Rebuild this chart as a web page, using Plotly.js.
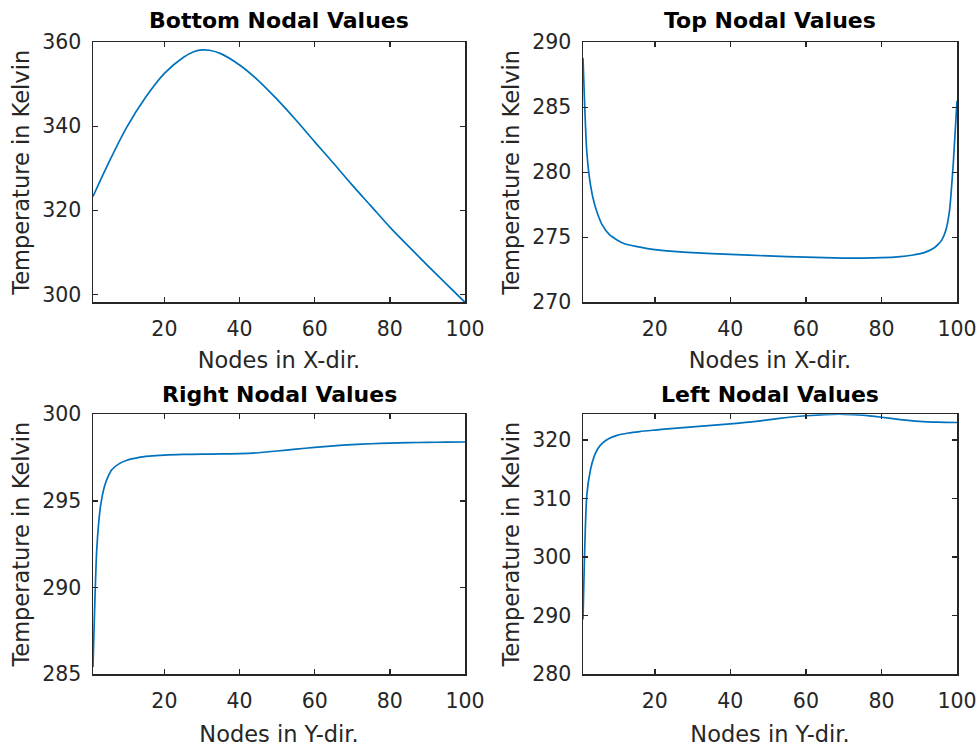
<!DOCTYPE html>
<html>
<head>
<meta charset="utf-8">
<script src="https://cdn.plot.ly/plotly-3.0.1.min.js"></script>
<style>html,body{margin:0;padding:0;background:#fff;}#chart{width:979px;height:750px;}</style>
</head>
<body>
<div id="chart"></div>
<script>
// ---- Data ----
const bottomNodes = [1, 5, 10, 15, 20, 25, 28, 30, 32, 35, 40, 45, 50, 55, 60, 65, 70, 75, 80, 85, 90, 95, 100];
const bottomTemp  = [323.3, 331.0, 339.8, 346.9, 352.6, 356.4, 357.8, 358.2, 358.1, 357.3, 354.6, 350.9, 346.4, 341.5, 336.3, 331.2, 326.0, 321.0, 316.0, 311.4, 306.9, 302.5, 298.1];

const topNodes = [1, 2, 3, 4, 5, 6, 8, 10, 12, 15, 20, 25, 30, 40, 50, 60, 70, 75, 80, 85, 88, 90, 92, 94, 95, 96, 97, 98, 99, 100];
const topTemp  = [288.8, 281.6, 279.0, 277.6, 276.7, 276.0, 275.2, 274.8, 274.5, 274.3, 274.05, 273.92, 273.82, 273.68, 273.57, 273.47, 273.4, 273.4, 273.43, 273.52, 273.62, 273.72, 273.9, 274.2, 274.45, 274.8, 275.5, 277.0, 280.6, 285.5];

const rightNodes = [1, 2, 3, 4, 5, 6, 8, 10, 13, 16, 20, 25, 30, 35, 40, 45, 50, 55, 60, 65, 70, 75, 80, 85, 90, 95, 100];
const rightTemp  = [285.4, 292.2, 294.7, 295.8, 296.4, 296.8, 297.15, 297.35, 297.5, 297.58, 297.64, 297.68, 297.7, 297.71, 297.73, 297.78, 297.88, 297.99, 298.09, 298.18, 298.25, 298.3, 298.34, 298.36, 298.38, 298.39, 298.4];

const leftNodes = [1, 2, 3, 4, 5, 6, 8, 10, 13, 16, 20, 25, 30, 35, 40, 45, 50, 55, 60, 65, 70, 75, 80, 85, 90, 95, 100];
const leftTemp  = [289.3, 310.5, 315.0, 317.3, 318.6, 319.4, 320.3, 320.8, 321.2, 321.45, 321.7, 322.0, 322.25, 322.5, 322.75, 323.05, 323.45, 323.85, 324.15, 324.35, 324.4, 324.25, 323.9, 323.5, 323.2, 323.05, 323.0];

const panelTitles = ["Bottom Nodal Values", "Top Nodal Values", "Right Nodal Values", "Left Nodal Values"];
const xLabels = ["Nodes in X-dir.", "Nodes in X-dir.", "Nodes in Y-dir.", "Nodes in Y-dir."];
const yLabel = "Temperature in Kelvin";
const xTicks = [20, 40, 60, 80, 100];
const yTicksBottom = [300, 320, 340, 360];
const yTicksTop = [270, 275, 280, 285, 290];
const yTicksRight = [285, 290, 295, 300];
const yTicksLeft = [280, 290, 300, 310, 320];

// ---- Styling ----
const W = 979, H = 750;
const FONT = "DejaVu Sans";
const AX = "#262626";
const LINE = "#0072BD";

const colDom = [[93 / W, 465 / W], [583 / W, 957 / W]];
const rowDom = [[1 - 302.3 / H, 1 - 42.3 / H], [1 - 674 / H, 1 - 414.3 / H]];

function mkTrace(x, y, i, sm) {
  const s = i === 0 ? "" : String(i + 1);
  return { x: x, y: y, type: "scatter", mode: "lines", line: { color: LINE, width: 1.7, shape: "spline", smoothing: sm },
           xaxis: "x" + s, yaxis: "y" + s, hoverinfo: "x+y", showlegend: false };
}

const data = [
  mkTrace(bottomNodes, bottomTemp, 0, 1.0),
  mkTrace(topNodes, topTemp, 1, 0.6),
  mkTrace(rightNodes, rightTemp, 2, 0.6),
  mkTrace(leftNodes, leftTemp, 3, 0.6)
];

const yRanges = [[298.1, 360], [270, 290], [285, 300], [280, 324.4]];
const yTickSets = [yTicksBottom, yTicksTop, yTicksRight, yTicksLeft];

const layout = {
  width: W, height: H,
  margin: { l: 0, r: 0, t: 0, b: 0 },
  paper_bgcolor: "#ffffff", plot_bgcolor: "#ffffff",
  font: { family: FONT, color: AX },
  showlegend: false,
  annotations: []
};

for (let i = 0; i < 4; i++) {
  const s = i === 0 ? "" : String(i + 1);
  const col = i % 2, row = Math.floor(i / 2);
  layout["xaxis" + s] = {
    domain: colDom[col], anchor: "y" + s, range: [1, 100],
    tickmode: "array", tickvals: xTicks, ticktext: xTicks.map(String),
    ticks: "inside", ticklen: 5, tickwidth: 1.5, tickcolor: AX,
    showline: true, linecolor: AX, linewidth: 1.5, mirror: "ticks",
    showgrid: false, zeroline: false, ticklabelstandoff: 8,
    tickfont: { family: FONT, size: 20.5, color: AX },
    title: { text: xLabels[i], font: { family: FONT, size: 22.5, color: AX }, standoff: row === 0 ? 12 : 14 }
  };
  layout["yaxis" + s] = {
    domain: rowDom[row], anchor: "x" + s, range: yRanges[i],
    tickmode: "array", tickvals: yTickSets[i], ticktext: yTickSets[i].map(String),
    ticks: "inside", ticklen: 5, tickwidth: 1.5, tickcolor: AX,
    showline: true, linecolor: AX, linewidth: 1.5, mirror: "ticks",
    showgrid: false, zeroline: false, ticklabelstandoff: 6,
    tickfont: { family: FONT, size: 20.5, color: AX },
    title: { text: yLabel, font: { family: FONT, size: 22.5, color: AX }, standoff: 6 }
  };
  const cx = (colDom[col][0] + colDom[col][1]) / 2;
  const ty = row === 0 ? 1 - 20.5 / H : 1 - 395 / H;
  layout.annotations.push({
    text: "<b>" + panelTitles[i] + "</b>", xref: "paper", yref: "paper", x: cx, y: ty,
    xanchor: "center", yanchor: "middle", showarrow: false,
    font: { family: FONT, size: 22, color: "#000000" }
  });
}

Plotly.newPlot("chart", data, layout, { displayModeBar: false, staticPlot: true });
</script>
</body>
</html>
